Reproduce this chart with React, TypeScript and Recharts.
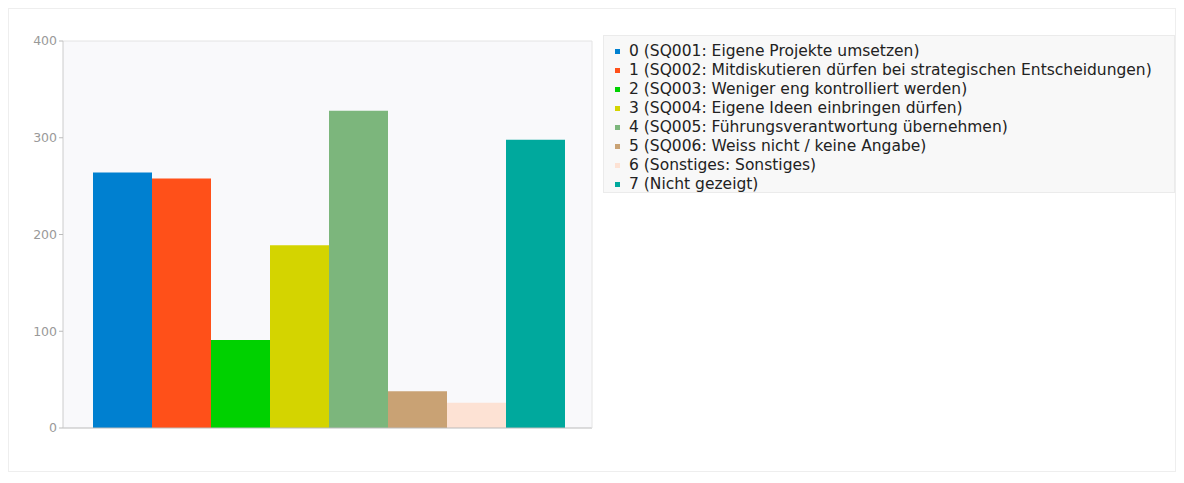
import React from 'react';
import { BarChart, Bar, XAxis, YAxis, CartesianGrid } from 'recharts';

const seriesKeys = ['s0', 's1', 's2', 's3', 's4', 's5', 's6', 's7'];
const seriesNames = [
  '0 (SQ001: Eigene Projekte umsetzen)',
  '1 (SQ002: Mitdiskutieren dürfen bei strategischen Entscheidungen)',
  '2 (SQ003: Weniger eng kontrolliert werden)',
  '3 (SQ004: Eigene Ideen einbringen dürfen)',
  '4 (SQ005: Führungsverantwortung übernehmen)',
  '5 (SQ006: Weiss nicht / keine Angabe)',
  '6 (Sonstiges: Sonstiges)',
  '7 (Nicht gezeigt)',
];
const seriesValues = [264, 258, 91, 189, 328, 38, 26, 298];
const seriesColors = ['#0080d0', '#ff5019', '#00d100', '#d4d400', '#7cb67c', '#c9a274', '#fde2d4', '#00a99d'];
const yTicks = [0, 100, 200, 300, 400];

const row: Record<string, string | number> = { name: '' };
seriesKeys.forEach((k, i) => {
  row[k] = seriesValues[i];
});
const data = [row];

const App: React.FC = () => {
  return (
    <div
      style={{
        position: 'relative',
        width: 1166,
        height: 462,
        border: '1px solid #eeeeee',
        fontFamily: '"DejaVu Sans", sans-serif',
      }}
    >
      <BarChart
        width={1166}
        height={462}
        data={data}
        margin={{ top: 31, right: 582, bottom: 42, left: 6 }}
        barCategoryGap={30}
        barGap={0}
      >
        <CartesianGrid fill="#f9f9fb" horizontal={false} vertical={false} />
        <XAxis dataKey="name" tick={false} tickLine={false} axisLine={{ stroke: '#bbbbbb' }} height={1} />
        <XAxis xAxisId="top" orientation="top" dataKey="name" tick={false} tickLine={false} axisLine={{ stroke: '#e4e4e4' }} height={1} />
        <YAxis
          domain={[0, 400]}
          ticks={yTicks}
          width={48}
          tick={{ fill: '#999999', fontSize: 12.5 }}
          tickLine={{ stroke: '#bbbbbb' }}
          tickSize={4}
          axisLine={{ stroke: '#cccccc' }}
        />
        <YAxis yAxisId="right" orientation="right" tick={false} tickLine={false} axisLine={{ stroke: '#e4e4e4' }} width={1} />
        {seriesKeys.map((k, i) => (
          <Bar key={k} dataKey={k} name={seriesNames[i]} fill={seriesColors[i]} isAnimationActive={false} />
        ))}
      </BarChart>
      <div
        style={{
          position: 'absolute',
          left: 594,
          top: 26,
          width: 572,
          height: 158,
          background: '#f8f8f8',
          border: '1px solid #ebebeb',
          boxSizing: 'border-box',
          padding: '6px 0 0 11px',
        }}
      >
        {seriesNames.map((n, i) => (
          <div key={n} style={{ height: 19, lineHeight: '19px', fontSize: 15.5, color: '#222', whiteSpace: 'nowrap' }}>
            <span
              style={{
                display: 'inline-block',
                width: 5,
                height: 5,
                background: seriesColors[i],
                marginRight: 9,
                verticalAlign: 'middle',
              }}
            />
            {n}
          </div>
        ))}
      </div>
    </div>
  );
};

export default App;
